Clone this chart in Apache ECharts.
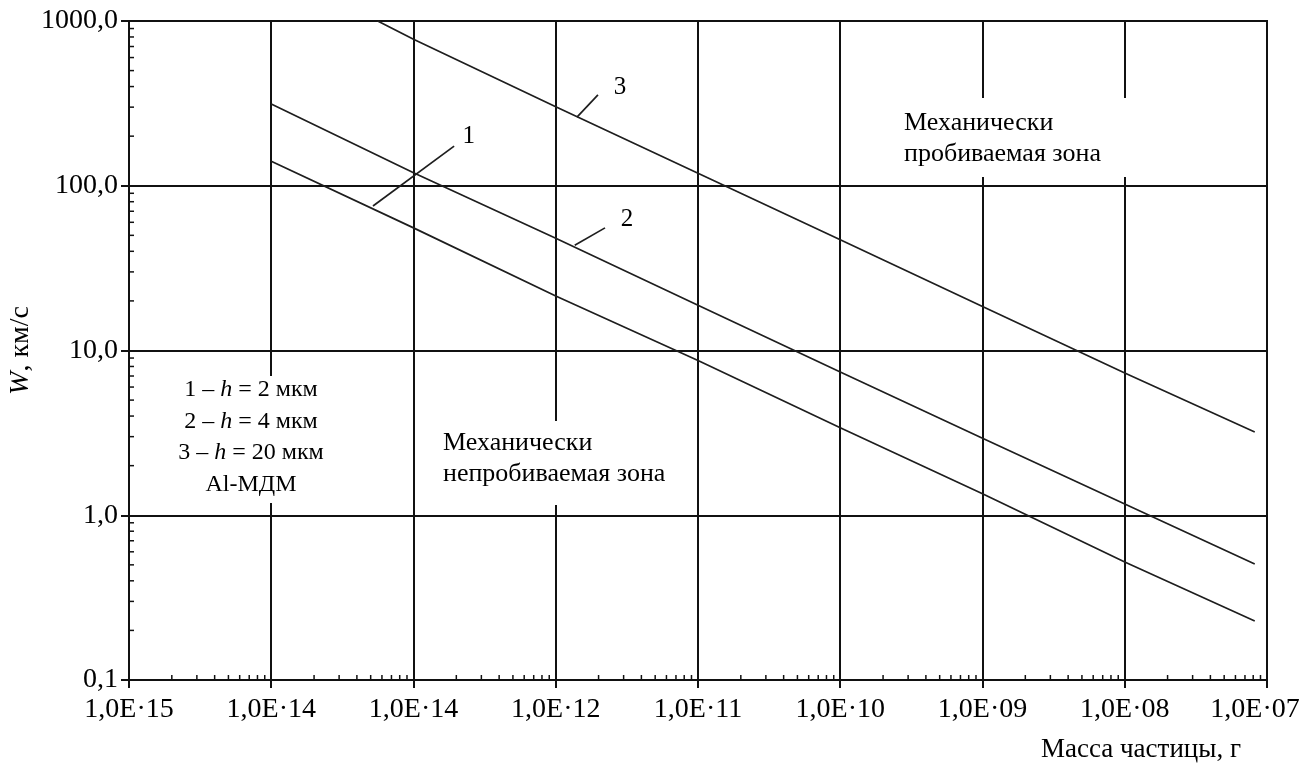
<!DOCTYPE html>
<html>
<head>
<meta charset="utf-8">
<script src="https://cdn.jsdelivr.net/npm/echarts@6/dist/echarts.min.js"></script>
<style>
html,body{margin:0;padding:0;background:#fff;}
#chart{width:1304px;height:771px;}
</style>
</head>
<body>
<div id="chart"></div>
<script>
// ---- data ----
const xTickLabels = ["1,0E·15","1,0E·14","1,0E·14","1,0E·12","1,0E·11","1,0E·10","1,0E·09","1,0E·08","1,0E·07"];
const yTickLabels = ["0,1","1,0","10,0","100,0","1000,0"];

const line1Mass = [1e-14, 1e-13, 1e-12, 1e-11, 1e-10, 1e-9, 1e-8, 8.2e-8];
const line1W    = [141, 55.5, 21.4, 8.7, 3.4, 1.35, 0.52, 0.228];
const line2Mass = [1e-14, 1e-13, 1e-12, 1e-11, 1e-10, 1e-9, 1e-8, 8.2e-8];
const line2W    = [313, 120, 48, 18.8, 7.4, 2.93, 1.17, 0.506];
const line3Mass = [5.6e-14, 1e-13, 1e-12, 1e-11, 1e-10, 1e-9, 1e-8, 8.2e-8];
const line3W    = [1000, 774, 302, 119, 47, 18.5, 7.3, 3.2];

// curve number callouts (data coordinates)
const calloutText  = ["1", "2", "3"];
const calloutMass  = [2.45e-13, 3.17e-12, 2.83e-12];
const calloutW     = [198, 62.8, 397];
const leaderFromMass = [5.19e-14, 1.36e-12, 1.41e-12];
const leaderFromW    = [75.3, 43.6, 261];
const leaderToMass   = [1.93e-13, 2.22e-12, 1.98e-12];
const leaderToW      = [174, 55.5, 356];

const xMin = 1e-15, xMax = 1e-7, yMin = 0.1, yMax = 1000;

// ---- build ----
const SERIF = '"Liberation Serif", "DejaVu Serif", serif';
const zip = (a, b) => a.map((v, i) => [v, b[i]]);

const xMinor = [], yMinor = [];
for (let e = -15; e < -7; e++) for (let k = 2; k <= 9; k++) xMinor.push([k * Math.pow(10, e), yMin]);
for (let e = -1; e < 3; e++) for (let k = 2; k <= 9; k++) yMinor.push([xMin, k * Math.pow(10, e)]);

const chart = echarts.init(document.getElementById('chart'), null, {renderer: 'canvas'});

const curveStyle = {color: '#1e1e1e', width: 1.7};

const option = {
  animation: false,
  backgroundColor: '#ffffff',
  grid: {left: 129, right: 37, top: 21, bottom: 91, containLabel: false, outerBoundsMode: 'none',
    show: true, borderColor: '#111', borderWidth: 2},
  xAxis: {
    type: 'log', logBase: 10, min: xMin, max: xMax,
    name: 'Масса частицы, г',
    nameLocation: 'end', nameGap: -26, nameMoveOverlap: false,
    nameTextStyle: {fontFamily: SERIF, fontSize: 27, color: '#000', align: 'right', verticalAlign: 'top', padding: [56, 0, 0, 0]},
    axisLine: {show: true, lineStyle: {color: '#111', width: 2}},
    axisTick: {show: true, inside: false, length: 8, lineStyle: {color: '#111', width: 2}},
    axisLabel: {fontFamily: SERIF, fontSize: 28, color: '#000', margin: 16, hideOverlap: false,
      formatter: v => {
        const i = Math.round(Math.log10(v)) + 15;
        return i === xTickLabels.length - 1 ? '{last|' + xTickLabels[i] + '}' : xTickLabels[i];
      },
      rich: {last: {fontFamily: SERIF, fontSize: 28, color: '#000', padding: [0, 24, 0, 0]}}},
    splitLine: {show: true, lineStyle: {color: '#111', width: 2}}
  },
  yAxis: {
    type: 'log', logBase: 10, min: yMin, max: yMax,
    name: '{i|W}, км/с',
    nameLocation: 'middle', nameGap: 94, nameRotate: 90, nameMoveOverlap: false,
    nameTextStyle: {fontFamily: SERIF, fontSize: 28, color: '#000',
      rich: {i: {fontFamily: SERIF, fontSize: 28, fontStyle: 'italic', color: '#000'}}},
    axisLine: {show: true, lineStyle: {color: '#111', width: 2}},
    axisTick: {show: true, inside: false, length: 8, lineStyle: {color: '#111', width: 2}},
    axisLabel: {fontFamily: SERIF, fontSize: 28, color: '#000', margin: 11,
      formatter: v => yTickLabels[Math.round(Math.log10(v)) + 1]},
    splitLine: {show: true, lineStyle: {color: '#111', width: 2}}
  },
  series: [
    {name: 'h = 2 мкм', type: 'line', data: zip(line1Mass, line1W), showSymbol: false, lineStyle: curveStyle, z: 5},
    {name: 'h = 4 мкм', type: 'line', data: zip(line2Mass, line2W), showSymbol: false, lineStyle: curveStyle, z: 5},
    {name: 'h = 20 мкм', type: 'line', data: zip(line3Mass, line3W), showSymbol: false, lineStyle: curveStyle, z: 5},
    {
      type: 'lines', coordinateSystem: 'cartesian2d', polyline: false, silent: true, z: 6,
      lineStyle: {color: '#1e1e1e', width: 1.7, opacity: 1},
      data: leaderFromMass.map((m, i) => ({coords: [[m, leaderFromW[i]], [leaderToMass[i], leaderToW[i]]]}))
    },
    {
      type: 'scatter', silent: true, symbolSize: 1, itemStyle: {color: 'rgba(0,0,0,0)'}, z: 6,
      data: calloutText.map((t, i) => ({name: t, value: [calloutMass[i], calloutW[i]]})),
      label: {show: true, position: 'inside', formatter: '{b}', fontFamily: SERIF, fontSize: 25,
        color: '#000', textBorderWidth: 0, opacity: 1}
    },
    {
      type: 'custom', silent: true, z: 4, data: xMinor,
      renderItem: (params, api) => {
        const p = api.coord([api.value(0), api.value(1)]);
        return {type: 'line', shape: {x1: p[0], y1: p[1], x2: p[0], y2: p[1] - 5}, style: {stroke: '#111', lineWidth: 1.5}};
      }
    },
    {
      type: 'custom', silent: true, z: 4, data: yMinor,
      renderItem: (params, api) => {
        const p = api.coord([api.value(0), api.value(1)]);
        return {type: 'line', shape: {x1: p[0], y1: p[1], x2: p[0] + 5, y2: p[1]}, style: {stroke: '#111', lineWidth: 1.5}};
      }
    }
  ],
  graphic: [
    {type: 'rect', shape: {x: 176, y: 376, width: 156, height: 127}, style: {fill: '#fff'}, z: 10, silent: true},
    {type: 'text', x: 251, y: 437, z: 11, silent: true,
      style: {text: '1 – {i|h} = 2 мкм\n2 – {i|h} = 4 мкм\n3 – {i|h} = 20 мкм\nAl-МДМ',
        fontFamily: SERIF, fontSize: 24, fill: '#000', align: 'center', verticalAlign: 'middle', lineHeight: 31.5,
        rich: {i: {fontFamily: SERIF, fontSize: 24, fontStyle: 'italic', fill: '#000', lineHeight: 31.5}}}},
    {type: 'rect', shape: {x: 436, y: 421, width: 240, height: 84}, style: {fill: '#fff'}, z: 10, silent: true},
    {type: 'text', x: 443, y: 459, z: 11, silent: true,
      style: {text: 'Механически\nнепробиваемая зона', fontFamily: SERIF, fontSize: 26, fill: '#000',
        align: 'left', verticalAlign: 'middle', lineHeight: 31}},
    {type: 'rect', shape: {x: 893, y: 98, width: 244, height: 79}, style: {fill: '#fff'}, z: 10, silent: true},
    {type: 'text', x: 904, y: 139, z: 11, silent: true,
      style: {text: 'Механически\nпробиваемая зона', fontFamily: SERIF, fontSize: 26, fill: '#000',
        align: 'left', verticalAlign: 'middle', lineHeight: 31}}
  ]
};
chart.setOption(option);
</script>
</body>
</html>
